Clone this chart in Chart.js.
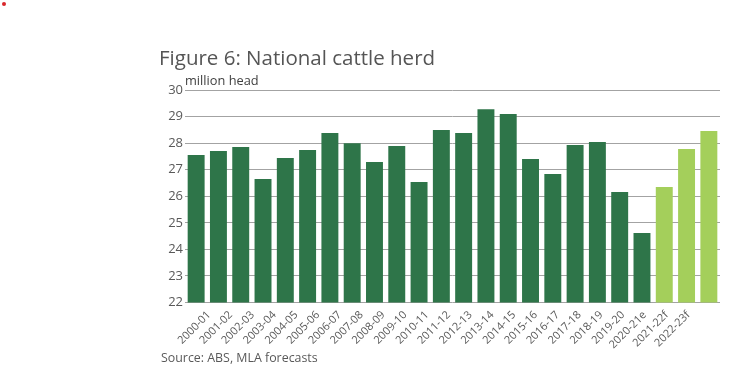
<!DOCTYPE html>
<html>
<head>
<meta charset="utf-8">
<script src="https://cdn.jsdelivr.net/npm/chart.js@4/dist/chart.umd.min.js"></script>
<style>
  html, body { margin: 0; padding: 0; background: #ffffff; }
  #wrap { position: relative; width: 740px; height: 379px; overflow: hidden; }
  canvas { position: absolute; left: 0; top: 0; }
  .txt { position: absolute; white-space: nowrap; font-family: "Open Sans", sans-serif; }
  #title { left: 159px; top: 45px; font-size: 20.5px; line-height: 24px; color: #555555; }
  #unit { left: 185px; top: 72px; font-size: 12.8px; line-height: 16px; color: #404040; }
  #source { left: 161px; top: 350px; font-size: 12.4px; line-height: 16px; color: #595959; }
  #dot { position: absolute; left: 2px; top: 2px; width: 4px; height: 4px; border-radius: 2px; background: #d9262b; }
</style>
</head>
<body>
<div id="wrap">
  <canvas id="c" width="740" height="379"></canvas>
  <div id="dot"></div>
  <div class="txt" id="title">Figure 6: National cattle herd</div>
  <div class="txt" id="unit">million head</div>
  <div class="txt" id="source">Source: ABS, MLA forecasts</div>
</div>
<script>
// Tick labels shown under the axis (as printed in the source chart)
const tickLabels = [
  "2000-01","2001-02","2002-03","2003-04","2004-05","2005-06","2006-07","2007-08",
  "2008-09","2009-10","2010-11","2011-12","2012-13","2013-14","2014-15","2015-16",
  "2016-17","2017-18","2018-19","2019-20","2020-21e","2021-22f","2022-23f"
];
// Herd size per bar, million head (24 bars drawn in the source)
const herdValues = [
  27.55, 27.70, 27.85, 26.65, 27.44, 27.74, 28.38, 28.00,
  27.29, 27.89, 26.54, 28.49, 28.38, 29.28, 29.10, 27.40,
  26.84, 27.93, 28.04, 26.16, 24.62, 26.35, 27.78, 28.46
];
// Whether each bar is an estimate/forecast
const isForecast = [
  false,false,false,false,false,false,false,false,
  false,false,false,false,false,false,false,false,
  false,false,false,false,false,true,true,true
];
const yTicks = [22, 23, 24, 25, 26, 27, 28, 29, 30];

const DARK = "#2e7549";
const LIGHT = "#a4cf5b";

new Chart(document.getElementById("c"), {
  type: "bar",
  data: {
    labels: herdValues.map((_, i) => String(i)),
    datasets: [{
      data: herdValues,
      backgroundColor: isForecast.map(f => f ? LIGHT : DARK),
      borderWidth: 0,
      categoryPercentage: 1.0,
      barPercentage: 0.76,
      xAxisID: "x",
      yAxisID: "y"
    }]
  },
  options: {
    responsive: false,
    animation: false,
    devicePixelRatio: 1,
    layout: { padding: { left: 150, right: 20, top: 90, bottom: 0 } },
    plugins: { legend: { display: false }, tooltip: { enabled: false }, title: { display: false } },
    scales: {
      x: {
        type: "category",
        display: false,
        offset: true
      },
      x2: {
        type: "linear",
        position: "bottom",
        min: -0.57,
        max: 22.92,
        afterBuildTicks: (s) => { s.ticks = tickLabels.map((_, i) => ({ value: i })); },
        afterFit: (s) => { s.height = 76.5; },
        grid: { display: false, drawTicks: false },
        border: { display: false },
        ticks: {
          autoSkip: false,
          minRotation: 45,
          maxRotation: 45,
          padding: 6,
          color: "#595959",
          font: { family: "Open Sans", size: 11 },
          callback: (v) => tickLabels[v]
        }
      },
      y: {
        min: 22,
        max: 30,
        afterBuildTicks: (s) => { s.ticks = yTicks.map(v => ({ value: v })); },
        afterFit: (s) => { s.width = 35; },
        grid: { color: "#a3a3a3", lineWidth: 1, drawTicks: false },
        border: { display: false },
        ticks: {
          padding: 2,
          color: "#595959",
          font: { family: "Open Sans", size: 13 }
        }
      }
    }
  }
});
</script>
</body>
</html>
